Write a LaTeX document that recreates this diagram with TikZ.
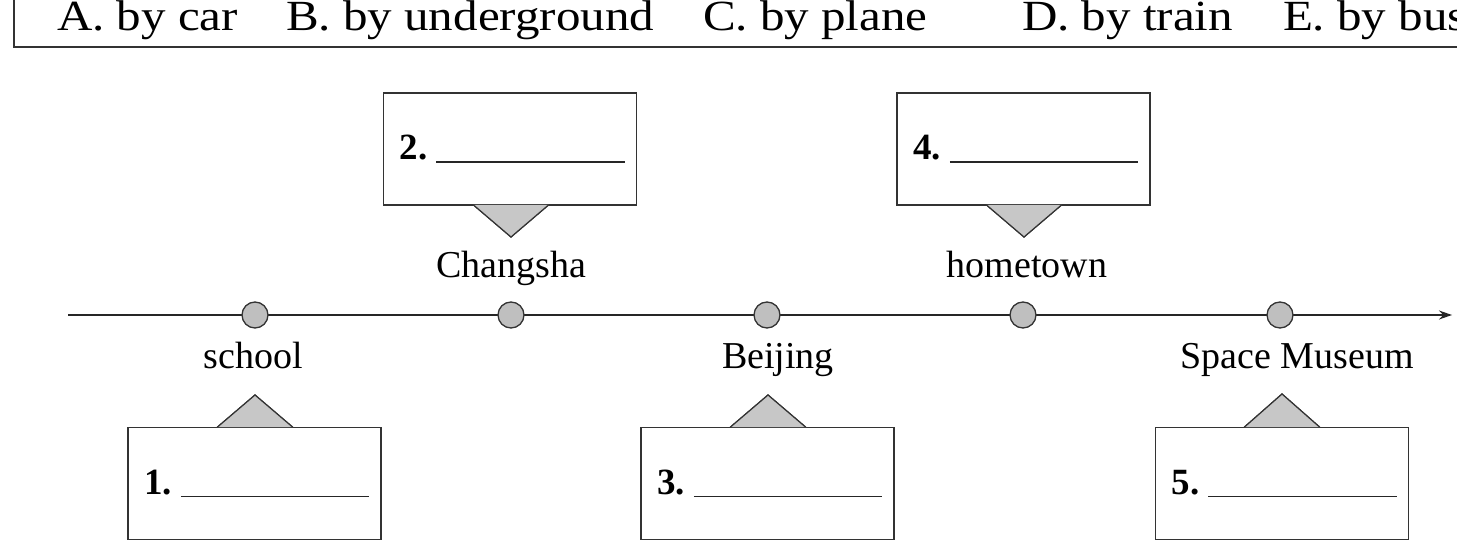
\documentclass[tikz,border=0pt]{standalone}
\usepackage{fontspec}
\setmainfont{Liberation Serif}
\newfontfamily\choicefont[FakeStretch=1.14]{Liberation Serif}
\usetikzlibrary{calc,arrows.meta}
\begin{document}
\begin{tikzpicture}[x=1pt,y=-1pt,
  every node/.style={inner sep=0pt,outer sep=0pt},
  ansbox/.style={draw=black!80,line width=1.3pt,minimum width=253pt,minimum height=112pt},
  stop/.style={circle,draw=black!80,line width=1.3pt,fill=black!25,minimum size=26pt},
  place/.style={font=\fontsize{38}{40}\selectfont,anchor=base},
  choice/.style={font=\choicefont\fontsize{43}{46}\selectfont,anchor=base west},
  num/.style={font=\fontsize{37}{40}\selectfont\bfseries,anchor=base west},
  tri/.style={draw=black!80,line width=1.2pt,fill=black!22,line join=miter},
  blank/.style={line width=1.3pt,draw=black!85}]
\useasboundingbox (0,0) rectangle (1457,548);
% choices frame
\coordinate (fl) at (14,0);
\coordinate (fc) at (14,47);
\coordinate (fr) at (1457,47);
\draw[line width=1.4pt,black!80] (fl) -- (fc) -- (fr);
\node[choice] (ca) at (57,31) {A. by car};
\node[choice] (cb) at (286,31) {B. by underground};
\node[choice] (cc) at (703,31) {C. by plane};
\node[choice] (cd) at (1022,31) {D. by train};
\node[choice] (ce) at (1283,31) {E. by bus};
% timeline
\coordinate (ls) at (68,315);
\coordinate (le) at (1452,315);
\draw[line width=1.3pt,black!85,-{Stealth[length=13pt,width=9pt]}] (ls) -- (le);
\node[stop] (s1) at (255,315) {};
\node[stop] (s2) at (511,315) {};
\node[stop] (s3) at (767,315) {};
\node[stop] (s4) at (1023,315) {};
\node[stop] (s5) at (1280,315) {};
% place labels
\node[place] (p1) at (253,368) {school};
\node[place] (p2) at (511,277) {Changsha};
\node[place] (p3) at (778,368) {Beijing};
\node[place] (p4) at (1027,277) {hometown};
\node[place] (p5) at (1297,368) {Space Museum};
% triangles (pointers)
\draw[tri] (473.5,205) -- (511,237) -- (548.5,205) -- cycle;
\draw[tri] (986.5,205) -- (1024,237) -- (1061.5,205) -- cycle;
\draw[tri] (217.5,427) -- (255,395) -- (292.5,427) -- cycle;
\draw[tri] (730.5,427) -- (768,395) -- (805.5,427) -- cycle;
\draw[tri] (1244.5,427) -- (1282,394) -- (1319.5,427) -- cycle;
% answer boxes
\node[ansbox,fill=white] (b2) at (510,149) {};
\node[ansbox,fill=white] (b4) at (1023.5,149) {};
\node[ansbox,fill=white] (b1) at (254.5,483.5) {};
\node[ansbox,fill=white] (b3) at (767.5,483.5) {};
\node[ansbox,fill=white] (b5) at (1282,483.5) {};
% redraw triangles' visible part over box edges
\draw[tri] (473.5,205) -- (511,237) -- (548.5,205);
\draw[tri] (986.5,205) -- (1024,237) -- (1061.5,205);
\draw[tri] (217.5,427) -- (255,395) -- (292.5,427);
\draw[tri] (730.5,427) -- (768,395) -- (805.5,427);
\draw[tri] (1244.5,427) -- (1282,394) -- (1319.5,427);
% numbers and blanks
\node[num] (n2) at ($(b2.west)+(16,11)$) {2.};
\node[num] (n4) at ($(b4.west)+(16,11)$) {4.};
\node[num] (n1) at ($(b1.west)+(16,11)$) {1.};
\node[num] (n3) at ($(b3.west)+(16,11)$) {3.};
\node[num] (n5) at ($(b5.west)+(16,11)$) {5.};
\draw[blank] ($(n2.base east)+(9,2)$) -- ($(b2.east)+(-12,13)$);
\draw[blank] ($(n4.base east)+(9,2)$) -- ($(b4.east)+(-12,13)$);
\draw[blank] ($(n1.base east)+(9,2)$) -- ($(b1.east)+(-12,13)$);
\draw[blank] ($(n3.base east)+(9,2)$) -- ($(b3.east)+(-12,13)$);
\draw[blank] ($(n5.base east)+(9,2)$) -- ($(b5.east)+(-12,13)$);
\end{tikzpicture}
\end{document}
